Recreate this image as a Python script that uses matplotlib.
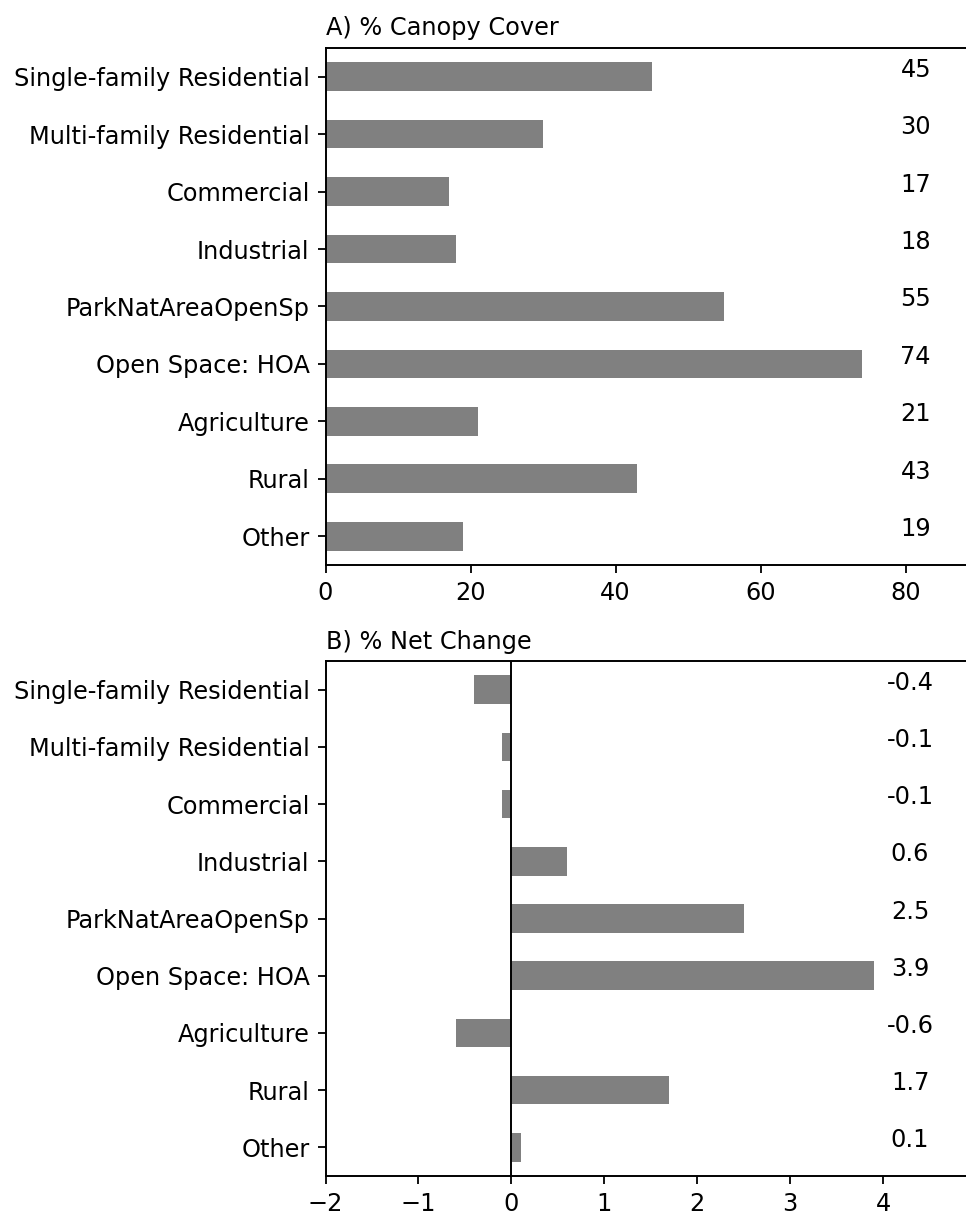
"""Canopy cover and net change by land use, two stacked barh panels."""

import matplotlib

matplotlib.use("Agg")
import matplotlib.pyplot as plt

land_uses = [
    "Single-family Residential",
    "Multi-family Residential",
    "Commercial",
    "Industrial",
    "ParkNatAreaOpenSp",
    "Open Space: HOA",
    "Agriculture",
    "Rural",
    "Other",
]
canopy_cover = [45, 30, 17, 18, 55, 74, 21, 43, 19]
canopy_labels = ["45", "30", "17", "18", "55", "74", "21", "43", "19"]
net_change = [-0.4, -0.1, -0.1, 0.6, 2.5, 3.9, -0.6, 1.7, 0.1]
net_labels = ["-0.4", "-0.1", "-0.1", "0.6", "2.5", "3.9", "-0.6", "1.7", "0.1"]

bar_color = "#808080"
font_size = 17.3

plt.rcParams["font.family"] = "DejaVu Sans"
plt.rcParams["font.size"] = font_size
plt.rcParams["axes.linewidth"] = 1.4

fig = plt.figure(figsize=(9.66, 12.14), dpi=100)
ax_a = fig.add_axes([0.337, 0.5346, 0.683, 0.4259])
ax_b = fig.add_axes([0.337, 0.0313, 0.683, 0.4242])


def draw_panel(ax, values, labels, title, xlim, xticks):
    pos = range(len(land_uses))
    ax.barh(pos, values, height=0.5, color=bar_color)
    ax.set_yticks(list(pos))
    ax.set_yticklabels(land_uses)
    ax.set_ylim(len(land_uses) - 0.5, -0.5)
    ax.set_xlim(*xlim)
    ax.set_xticks(xticks)
    ax.tick_params(axis="both", labelsize=font_size, width=1.3, length=6, pad=5.5)
    ax.set_title(title, loc="left", fontsize=font_size, pad=9)
    # value labels sit in a column just right of the longest bar
    xpos = max(values) * 1.1
    for i, s in enumerate(labels):
        ax.text(xpos, i, s, ha="center", va="baseline", fontsize=font_size)


draw_panel(ax_a, canopy_cover, canopy_labels, "A) % Canopy Cover",
           (0, 91), [0, 20, 40, 60, 80])
draw_panel(ax_b, net_change, net_labels, "B) % Net Change",
           (-2, 5.1), [-2, -1, 0, 1, 2, 3, 4])
ax_b.axvline(0, color="black", lw=1.4)

fig.savefig("out.png", dpi=100)
plt.close(fig)
